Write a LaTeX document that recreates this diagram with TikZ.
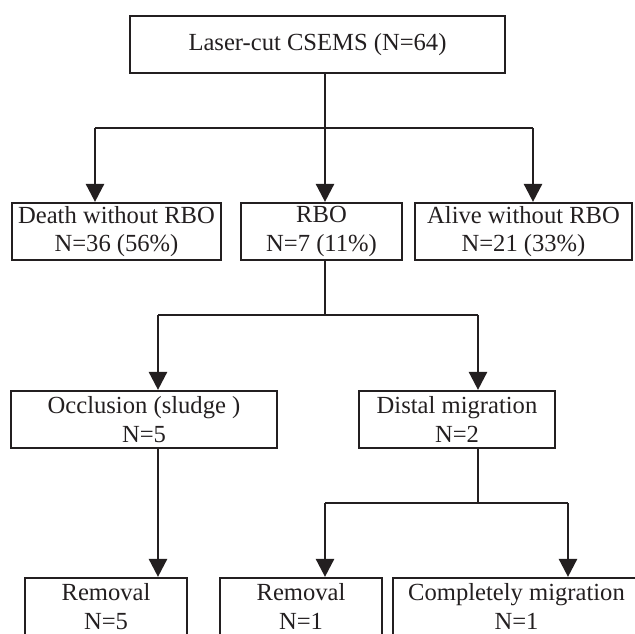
\documentclass[tikz,border=0pt]{standalone}
\usepackage{fontspec}
\setmainfont{Liberation Serif}
\usetikzlibrary{arrows.meta}
\definecolor{ink}{RGB}{35,31,32}
\begin{document}
\begin{tikzpicture}[x=0.5pt,y=-0.5pt,
  box/.style={draw=ink, line width=1.1pt, rectangle, inner sep=0pt, text=ink,
    align=center, minimum height=28.5pt, font=\fontsize{12.3}{14.2}\selectfont},
  plain/.style={draw=ink, line width=1pt},
  heavy/.style={draw=ink, line width=1.3pt},
  arr/.style={draw=ink, line width=1.3pt, -{Triangle[width=9pt,length=9pt]}}]
\useasboundingbox (0,0) rectangle (635,633);
\clip (0,0) rectangle (635,633);
% boxes
\node[box, minimum width=187.5pt] (top) at (317.5,44.5) {Laser-cut CSEMS (N=64)};
\node[box, minimum width=104.5pt] (death) at (116.5,231.5) {Death without RBO\\N=36 (56\%)};
\node[box, minimum width=80.5pt] (rbo) at (321.5,231.5) {RBO\\N=7 (11\%)};
\node[box, minimum width=108.5pt] (alive) at (523.5,231.5) {Alive without RBO\\N=21 (33\%)};
\node[box, minimum width=133pt] (occ) at (144,419.5) {Occlusion (sludge )\\N=5};
\node[box, minimum width=98pt] (distal) at (457,419.5) {Distal migration\\N=2};
\node[box, minimum width=81pt] (rem1) at (106,606.5) {Removal\\N=5};
\node[box, minimum width=81pt] (rem2) at (301,606.5) {Removal\\N=1};
\node[box, minimum width=123.5pt] (comp) at (516.5,606.5) {Completely migration\\N=1};
% level 1 connectors
\coordinate (j1) at (325,128);
\coordinate (a1) at (95,128);
\coordinate (a3) at (533,128);
\draw[heavy] (top.south -| j1) -- (j1);
\draw[heavy] (a1) -- (a3);
\draw[arr] (a1) -- (a1 |- death.north);
\draw[arr] (j1) -- (j1 |- rbo.north);
\draw[arr] (a3) -- (a3 |- alive.north);
% level 2 connectors
\coordinate (j2) at (325,315);
\coordinate (b1) at (158,315);
\coordinate (b2) at (478,315);
\draw[plain] (rbo.south -| j2) -- (j2);
\draw[plain] (b1) -- (b2);
\draw[arr] (b1) -- (b1 |- occ.north);
\draw[arr] (b2) -- (b2 |- distal.north);
% level 3 connectors
\draw[arr] (occ.south -| b1) -- (b1 |- rem1.north);
\coordinate (j3) at (478,503);
\coordinate (c1) at (325,503);
\coordinate (c2) at (568,503);
\draw[plain] (distal.south -| j3) -- (j3);
\draw[plain] (c1) -- (c2);
\draw[arr] (c1) -- (c1 |- rem2.north);
\draw[arr] (c2) -- (c2 |- comp.north);
\end{tikzpicture}
\end{document}
